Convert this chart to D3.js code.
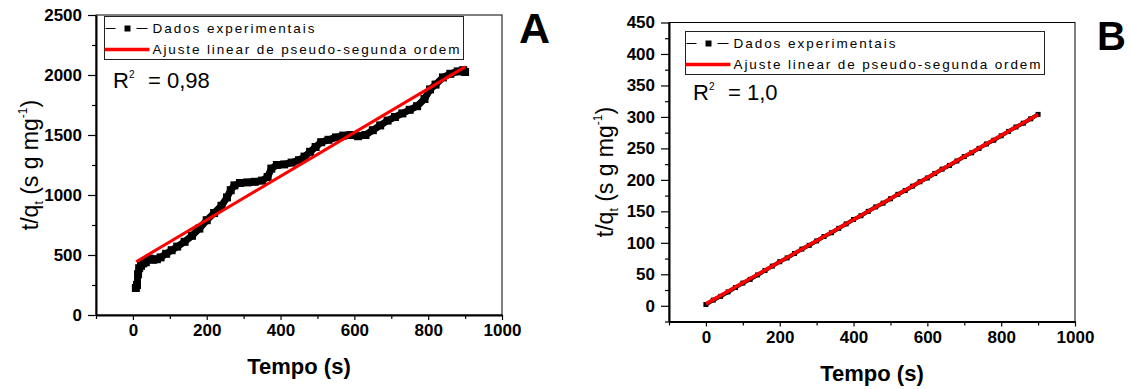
<!DOCTYPE html>
<html>
<head>
<meta charset="utf-8">
<script src="https://cdn.jsdelivr.net/npm/d3@7"></script>
<style>
  body { margin: 0; background: #fff; }
  svg { font-family: "Liberation Sans", Arial, sans-serif; }
</style>
</head>
<body>
<div id="main"></div>
<script>

var timeA = [8, 11, 14, 17, 22, 28, 35, 45, 55, 65, 75, 90, 105, 120, 140, 160, 180, 200,
             220, 240, 255, 265, 275, 290, 310, 330, 350, 365, 375, 390, 410, 430, 450, 465,
             480, 495, 510, 530, 550, 570, 590, 610, 630, 650, 670, 690, 710, 730, 750, 770,
             790, 805, 820, 840, 860, 880, 895, 900];
var qA = [225, 250, 340, 390, 410, 430, 440, 470, 460, 465, 480, 510, 540, 570, 610, 660, 720, 790,
          850, 910, 980, 1040, 1080, 1100, 1105, 1110, 1120, 1150, 1220, 1250, 1255, 1270, 1290, 1320,
          1360, 1400, 1440, 1460, 1480, 1495, 1500, 1490, 1500, 1540, 1580, 1620, 1650, 1680, 1710, 1740,
          1800, 1880, 1920, 1980, 2010, 2030, 2040, 2025];
// Panel A - fitted line end points
var fitTimeA = [9, 900];
var fitA = [444, 2068];

// Panel B - experimental values
var timeB = [0, 20, 40, 60, 80, 100, 120, 140, 160, 180, 200, 220, 240, 260, 280, 300, 320, 340,
             360, 380, 400, 420, 440, 460, 480, 500, 520, 540, 560, 580, 600, 620, 640, 660, 680,
             700, 720, 740, 760, 780, 800, 820, 840, 860, 880, 900];
var qB = [2, 9, 15, 22, 29, 36, 42, 49, 56, 63, 70, 76, 83, 90, 96, 103, 110, 116,
          123, 130, 137, 143, 150, 157, 163, 170, 177, 183, 190, 197, 203, 210, 217, 223, 230,
          237, 243, 250, 257, 263, 270, 277, 284, 290, 297, 304];
var fitTimeB = [0, 900];
var fitB = [3, 304];

// tick labels
var xTicks = [0, 200, 400, 600, 800, 1000];
var xMinor = [-100, 100, 300, 500, 700, 900];
var yTicksA = [0, 500, 1000, 1500, 2000, 2500];
var yMinorA = [250, 750, 1250, 1750, 2250];
var yTicksB = [0, 50, 100, 150, 200, 250, 300, 350, 400, 450];
var yMinorB = [-25, 25, 75, 125, 175, 225, 275, 325, 375, 425];

var legendText = ["Dados experimentais", "Ajuste linear de pseudo-segunda ordem"];

var w = 1131, h = 389;

var svg = d3.select("#main").append("svg")
    .attr("width", w)
    .attr("height", h);

function zip(a, b) {
  return a.map(function(d, i) { return [d, b[i]]; });
}

function panel(o) {
  var x = d3.scaleLinear().domain([-100, 1000]).range([o.x0, o.x1]);
  var y = d3.scaleLinear().domain(o.yDom).range([o.y1, o.y0]);
  var g = svg.append("g");

  // frame
  g.append("rect")
      .attr("x", o.x0).attr("y", o.y0)
      .attr("width", o.x1 - o.x0).attr("height", o.y1 - o.y0)
      .attr("fill", "none").attr("stroke", "#000").attr("stroke-width", 1);

  // minor ticks
  g.append("g").attr("transform", "translate(" + o.x0 + ",0)")
      .call(d3.axisLeft(y).tickValues(o.yMinor).tickSize(4).tickFormat(""))
      .select(".domain").remove();
  g.append("g").attr("transform", "translate(0," + o.y1 + ")")
      .call(d3.axisBottom(x).tickValues(xMinor).tickSize(4).tickFormat(""))
      .select(".domain").remove();

  // major ticks + labels
  var ya = g.append("g").attr("transform", "translate(" + o.x0 + ",0)")
      .call(d3.axisLeft(y).tickValues(o.yTicks).tickSize(8).tickSizeOuter(0)
            .tickPadding(6).tickFormat(d3.format("d")));
  var xa = g.append("g").attr("transform", "translate(0," + o.y1 + ")")
      .call(d3.axisBottom(x).tickValues(xTicks).tickSize(5).tickSizeOuter(0)
            .tickPadding(4).tickFormat(d3.format("d")));
  [ya, xa].forEach(function(a) {
    a.select(".domain").attr("stroke-width", 2);
    a.selectAll("text").attr("font-size", 17).attr("font-weight", "bold")
        .attr("font-family", "'Liberation Sans', Arial, sans-serif").attr("fill", "#000");
  });
  g.selectAll(".tick line").attr("stroke", "#000").attr("stroke-width", 1.2);

  // experimental data
  var line = d3.line().x(function(d) { return x(d[0]); }).y(function(d) { return y(d[1]); });
  var pts = zip(o.t, o.q);
  g.append("path").datum(pts)
      .attr("d", line).attr("fill", "none").attr("stroke", "#000")
      .attr("stroke-width", o.lw).attr("stroke-linejoin", "round");
  g.selectAll("rect.pt").data(pts).enter().append("rect")
      .attr("class", "pt")
      .attr("x", function(d) { return x(d[0]) - o.ms / 2; })
      .attr("y", function(d) { return y(d[1]) - o.ms / 2; })
      .attr("width", o.ms).attr("height", o.ms).attr("fill", "#000");

  // fit
  g.append("path").datum(zip(o.ft, o.fq))
      .attr("d", line).attr("fill", "none").attr("stroke", "#ff0000")
      .attr("stroke-width", o.fw);

  // legend
  var lg = g.append("g").attr("transform", "translate(" + o.lx + "," + o.ly + ")");
  lg.append("rect").attr("x", 0).attr("y", 0).attr("width", 359).attr("height", 43)
      .attr("fill", "#fff").attr("stroke", "#222").attr("stroke-width", 1);
  lg.append("line").attr("x1", 1).attr("x2", 11).attr("y1", 12).attr("y2", 12)
      .attr("stroke", "#000").attr("stroke-width", 1);
  lg.append("line").attr("x1", 32).attr("x2", 43).attr("y1", 12).attr("y2", 12)
      .attr("stroke", "#000").attr("stroke-width", 1);
  lg.append("rect").attr("x", 20).attr("y", 9).attr("width", 6).attr("height", 6).attr("fill", "#000");
  lg.append("line").attr("x1", 0).attr("x2", 45).attr("y1", 33).attr("y2", 33)
      .attr("stroke", "#ff0000").attr("stroke-width", 3.5);
  lg.selectAll("text.lt").data(legendText).enter().append("text")
      .attr("class", "lt")
      .attr("x", 48)
      .attr("y", function(d, i) { return 16.5 + i * 21; })
      .attr("font-size", 13.5)
      .attr("textLength", function(d, i) { return i === 0 ? 162 : 307; })
      .attr("lengthAdjust", "spacing")
      .text(function(d) { return d; });

  // R^2
  var r2 = g.append("text").attr("x", o.rx).attr("y", o.ry).attr("font-size", 22);
  r2.append("tspan").text("R");
  r2.append("tspan").attr("font-size", 10).attr("dy", -10).text("2");
  r2.append("tspan").attr("x", o.rx + 35).attr("dy", 10).text("= " + o.r2);

  // axis titles
  g.append("text")
      .attr("x", (o.x0 + o.x1) / 2).attr("y", o.y1 + 59)
      .attr("text-anchor", "middle").attr("font-size", 22).attr("font-weight", "bold")
      .text("Tempo (s)");
  var yl = g.append("text")
      .attr("transform", "translate(" + o.yl + "," + ((o.y0 + o.y1) / 2) + ") rotate(-90)")
      .attr("text-anchor", "middle").attr("font-size", 23);
  yl.append("tspan").text("t/q");
  yl.append("tspan").attr("font-size", 12).attr("dy", 5).text("t");
  yl.append("tspan").attr("dy", -5).text(" (s g mg");
  yl.append("tspan").attr("font-size", 12).attr("dy", -11).text("-1");
  yl.append("tspan").attr("dy", 11).text(")");

  // panel letter
  g.append("text").attr("x", o.px).attr("y", o.py)
      .attr("font-size", o.ps).attr("font-weight", "bold").text(o.letter);
}

panel({
  x0: 96, x1: 502, y0: 15, y1: 315, yDom: [0, 2500],
  yTicks: yTicksA, yMinor: yMinorA,
  t: timeA, q: qA, ft: fitTimeA, fq: fitA,
  lw: 7, ms: 8, fw: 3,
  lx: 104.5, ly: 16.5, rx: 113, ry: 88, r2: "0,98",
  yl: 38, letter: "A", px: 519, py: 43, ps: 43
});

panel({
  x0: 669, x1: 1075, y0: 22.5, y1: 321.5, yDom: [-25, 450],
  yTicks: yTicksB, yMinor: yMinorB,
  t: timeB, q: qB, ft: fitTimeB, fq: fitB,
  lw: 4, ms: 5, fw: 3.5,
  lx: 685.5, ly: 31.5, rx: 693, ry: 100, r2: "1,0",
  yl: 613, letter: "B", px: 1097, py: 50, ps: 40
});

</script>
</body>
</html>
